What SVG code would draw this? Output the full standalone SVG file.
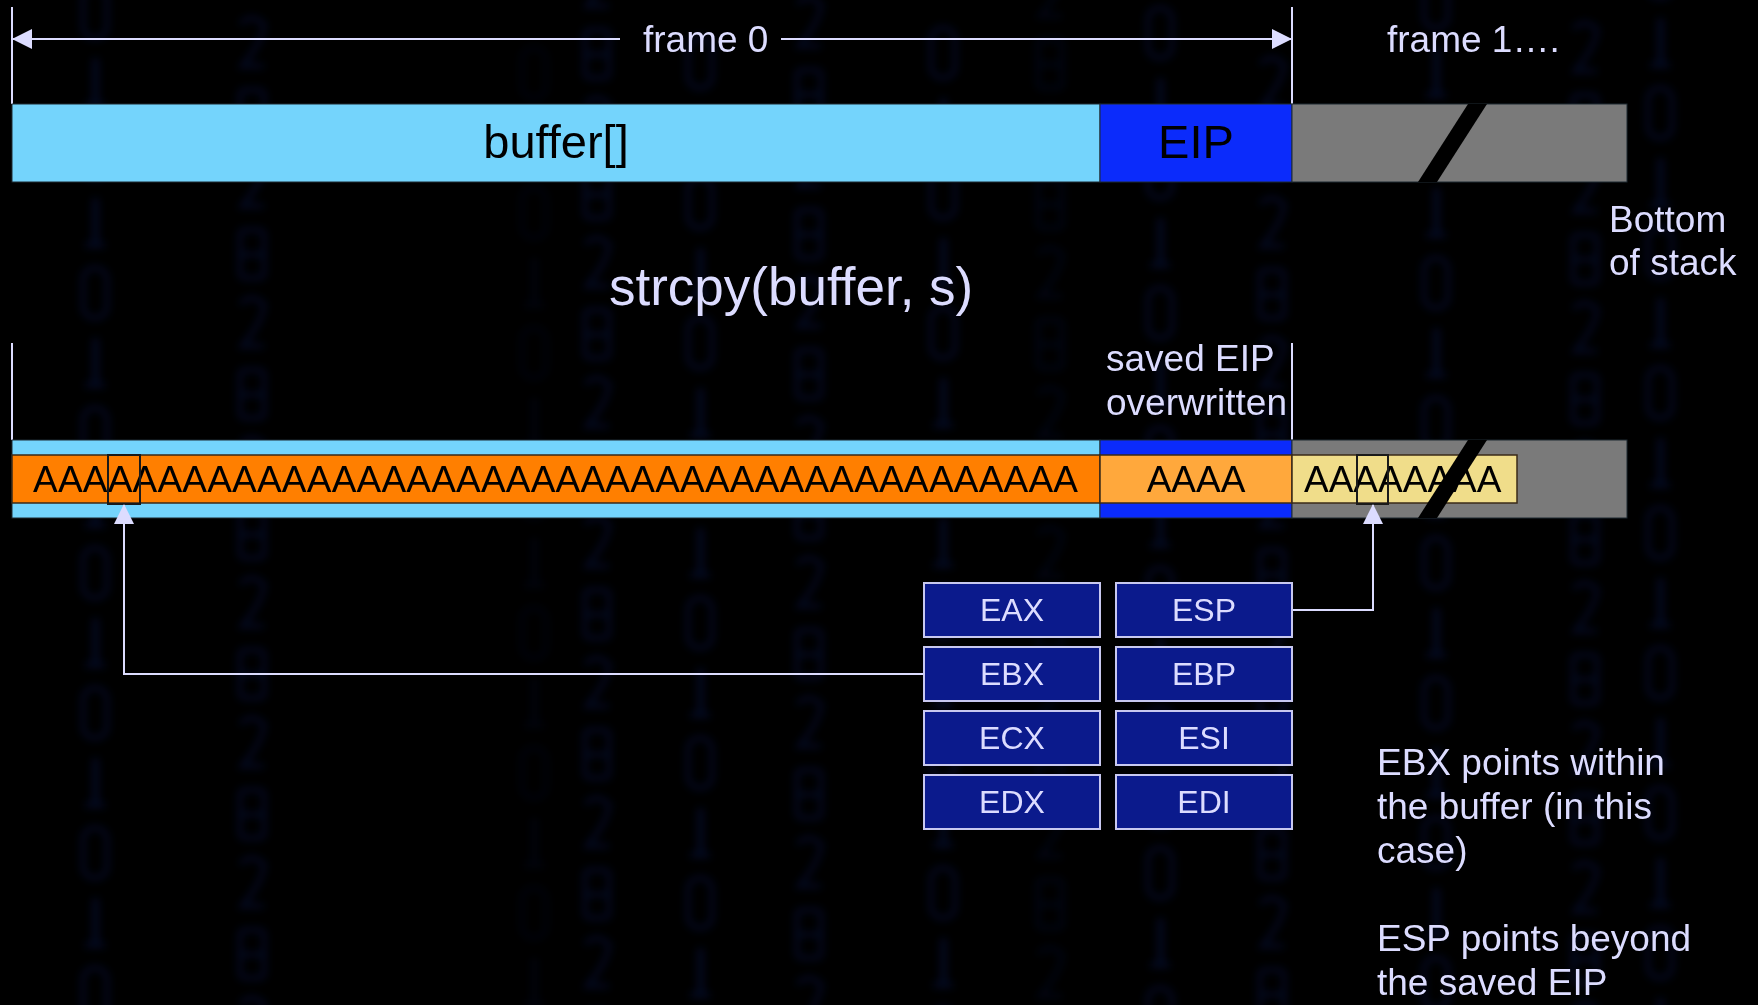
<svg xmlns="http://www.w3.org/2000/svg" width="1758" height="1005" viewBox="0 0 1758 1005">
  <style>
    .lbl { font-family: "Liberation Sans", Arial, sans-serif; fill: #dcdcff; font-size: 37px; }
    .big { font-size: 53px; }
    .blk { font-family: "Liberation Sans", Arial, sans-serif; fill: #000000; }
    .reg rect { fill: #0b1a8c; stroke: #c8c8f0; stroke-width: 2; }
    .reg text { font-family: "Liberation Sans", Arial, sans-serif; fill: #dcdcff; font-size: 32px; text-anchor: middle; }
    .guide { stroke: #dcdcff; stroke-width: 2; fill: none; }
    .edge { stroke: #1e2a33; stroke-width: 1; }
    .band { stroke: #3a2a18; stroke-width: 1.5; }
    .mark { fill: none; stroke: #1a1a1a; stroke-width: 2; }
    .slash { fill: #000000; }
  </style>
  <defs>
    <marker id="head" viewBox="0 0 20 20" markerUnits="userSpaceOnUse" markerWidth="20" markerHeight="20" refX="19" refY="10" orient="auto-start-reverse">
      <path d="M0,0 L20,10 L0,20 z" fill="#dcdcff"/>
    </marker>
    <filter id="soft" x="-50%" y="-5%" width="200%" height="110%">
      <feGaussianBlur stdDeviation="4"/>
    </filter>
    <!-- faint glyph columns of the backdrop -->
    <pattern id="glyphsA" width="44" height="140" patternUnits="userSpaceOnUse">
      <rect x="10" y="8" width="24" height="50" rx="11" fill="none" stroke="#1430a8" stroke-width="5"/>
      <rect x="19" y="78" width="7" height="48" fill="#1430a8"/>
      <rect x="12" y="122" width="20" height="6" fill="#1430a8"/>
    </pattern>
    <pattern id="glyphsB" width="44" height="140" patternUnits="userSpaceOnUse">
      <path d="M10,14 Q22,2 34,14 Q34,30 12,56 L34,56" fill="none" stroke="#1430a8" stroke-width="5"/>
      <rect x="10" y="80" width="24" height="48" rx="4" fill="none" stroke="#1430a8" stroke-width="5"/>
      <rect x="10" y="102" width="24" height="5" fill="#1430a8"/>
    </pattern>
  </defs>

  <!-- backdrop -->
  <rect x="0" y="0" width="1758" height="1005" fill="#000000"/>
  <g id="backdrop" filter="url(#soft)" opacity="0.2">
    <rect transform="translate(73,-20)" width="44" height="1040" fill="url(#glyphsA)"/>
    <rect transform="translate(230,10)" width="44" height="1000" fill="url(#glyphsB)"/>
    <rect transform="translate(512,40)" width="44" height="970" fill="url(#glyphsA)" opacity="0.4"/>
    <rect transform="translate(575,-50)" width="44" height="1060" fill="url(#glyphsB)"/>
    <rect transform="translate(678,30)" width="44" height="980" fill="url(#glyphsA)"/>
    <rect transform="translate(787,-10)" width="44" height="1020" fill="url(#glyphsB)"/>
    <rect transform="translate(921,20)" width="44" height="990" fill="url(#glyphsA)"/>
    <rect transform="translate(1028,-40)" width="44" height="1050" fill="url(#glyphsB)" opacity="0.6"/>
    <rect transform="translate(1138,0)" width="44" height="1010" fill="url(#glyphsA)"/>
    <rect transform="translate(1250,50)" width="44" height="960" fill="url(#glyphsB)"/>
    <rect transform="translate(1414,-30)" width="44" height="1040" fill="url(#glyphsA)"/>
    <rect transform="translate(1563,15)" width="44" height="995" fill="url(#glyphsB)"/>
    <rect transform="translate(1638,-60)" width="44" height="1070" fill="url(#glyphsA)"/>
  </g>

  <!-- frame extent guides -->
  <g id="frame-guides">
    <line class="guide" x1="12" y1="7" x2="12" y2="104"/>
    <line class="guide" x1="1292" y1="7" x2="1292" y2="104"/>
    <line class="guide" x1="620" y1="39" x2="13" y2="39" marker-end="url(#head)"/>
    <line class="guide" x1="781" y1="39" x2="1291" y2="39" marker-end="url(#head)"/>
    <text class="lbl" x="643" y="52">frame 0</text>
    <text class="lbl" x="1387" y="52">frame 1….</text>
  </g>

  <!-- stack before the copy -->
  <g id="stack-before">
    <rect class="edge" x="12" y="104" width="1088" height="78" fill="#74d4fc"/>
    <rect class="edge" x="1100" y="104" width="192" height="78" fill="#0b2bfb"/>
    <rect class="edge" x="1292" y="104" width="335" height="78" fill="#7a7a7a"/>
    <polygon class="slash" points="1468,104 1487,104 1437,182 1418,182"/>
    <text class="blk" x="556" y="158" font-size="47" text-anchor="middle">buffer[]</text>
    <text class="blk" x="1196" y="158" font-size="47" text-anchor="middle">EIP</text>
  </g>

  <g id="bottom-label">
    <text class="lbl" x="1609" y="232">Bottom</text>
    <text class="lbl" x="1609" y="275">of stack</text>
  </g>

  <g id="call-label">
    <text class="lbl big" x="609" y="305">strcpy(buffer, s)</text>
  </g>

  <g id="overwrite-label">
    <line class="guide" x1="12" y1="343" x2="12" y2="440"/>
    <line class="guide" x1="1292" y1="343" x2="1292" y2="440"/>
    <text class="lbl" x="1106" y="371">saved EIP</text>
    <text class="lbl" x="1106" y="415">overwritten</text>
  </g>

  <!-- stack after the copy -->
  <g id="stack-after">
    <rect class="edge" x="12" y="440" width="1088" height="78" fill="#74d4fc"/>
    <rect class="edge" x="1100" y="440" width="192" height="78" fill="#0b2bfb"/>
    <rect class="edge" x="1292" y="440" width="335" height="78" fill="#7a7a7a"/>
    <rect class="band" x="12" y="455" width="1088" height="48" fill="#ff7f00"/>
    <rect class="band" x="1100" y="455" width="192" height="48" fill="#ffa83c"/>
    <rect class="band" x="1292" y="455" width="225" height="48" fill="#f0dd8a"/>
    <text class="blk" x="33" y="492" font-size="37" textLength="1045" lengthAdjust="spacing">AAAAAAAAAAAAAAAAAAAAAAAAAAAAAAAAAAAAAAAAAA</text>
    <text class="blk" x="1196" y="492" font-size="37" text-anchor="middle">AAAA</text>
    <text class="blk" x="1304" y="492" font-size="37">AAAAAAAA</text>
    <rect class="mark" x="108" y="455" width="32" height="49"/>
    <rect class="mark" x="1357" y="455" width="31" height="49"/>
    <polygon class="slash" points="1468,440 1487,440 1437,518 1418,518"/>
  </g>

  <!-- register file -->
  <g id="reg-eax" class="reg"><rect x="924" y="583" width="176" height="54"/><text x="1012" y="621">EAX</text></g>
  <g id="reg-ebx" class="reg"><rect x="924" y="647" width="176" height="54"/><text x="1012" y="685">EBX</text></g>
  <g id="reg-ecx" class="reg"><rect x="924" y="711" width="176" height="54"/><text x="1012" y="749">ECX</text></g>
  <g id="reg-edx" class="reg"><rect x="924" y="775" width="176" height="54"/><text x="1012" y="813">EDX</text></g>
  <g id="reg-esp" class="reg"><rect x="1116" y="583" width="176" height="54"/><text x="1204" y="621">ESP</text></g>
  <g id="reg-ebp" class="reg"><rect x="1116" y="647" width="176" height="54"/><text x="1204" y="685">EBP</text></g>
  <g id="reg-esi" class="reg"><rect x="1116" y="711" width="176" height="54"/><text x="1204" y="749">ESI</text></g>
  <g id="reg-edi" class="reg"><rect x="1116" y="775" width="176" height="54"/><text x="1204" y="813">EDI</text></g>

  <!-- pointers from registers into the stack -->
  <g id="connectors">
    <path class="guide" d="M923,674 H124 V505" marker-end="url(#head)"/>
    <path class="guide" d="M1293,610 H1373 V505" marker-end="url(#head)"/>
  </g>

  <g id="notes">
    <text class="lbl" x="1377" y="775">EBX points within</text>
    <text class="lbl" x="1377" y="819">the buffer (in this</text>
    <text class="lbl" x="1377" y="863">case)</text>
    <text class="lbl" x="1377" y="951">ESP points beyond</text>
    <text class="lbl" x="1377" y="995">the saved EIP</text>
  </g>
</svg>
